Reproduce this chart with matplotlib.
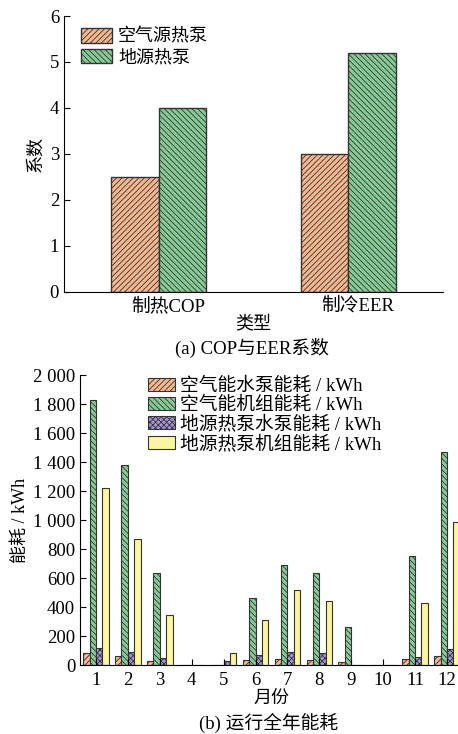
import numpy as np
import matplotlib.pyplot as plt

plt.rcParams['font.family'] = ['Liberation Serif', 'Noto Sans CJK SC']
plt.rcParams['hatch.linewidth'] = 0.6
plt.rcParams['hatch.color'] = '#555555'

# (a) COP / EER
types = ['制热COP', '制冷EER']
air_src = [2.5, 3.0]
ground_src = [4.0, 5.2]

# (b) monthly energy use, kWh
months = [str(m) for m in range(1, 13)]
air_pump = [80, 65, 30, 0, 0, 35, 40, 35, 20, 0, 40, 65]
air_unit = [1825, 1380, 635, 0, 0, 465, 690, 635, 265, 0, 750, 1470]
gs_pump = [120, 90, 45, 0, 25, 70, 90, 80, 0, 0, 55, 110]
gs_unit = [1220, 870, 345, 0, 80, 310, 520, 440, 0, 0, 430, 985]

c_orange = '#F6B88E'
c_green = '#86CC94'
c_purple = '#A896D8'
c_yellow = '#FAF6A0'
edge = '#333333'

fig = plt.figure(figsize=(4.58, 7.34), dpi=100)

# ---- top panel
ax1 = fig.add_axes([0.1397, 0.6022, 0.8275, 0.376])
x = np.arange(len(types))
w = 0.25
ax1.bar(x - w / 2, air_src, w, color=c_orange, edgecolor=edge, hatch='//////',
        linewidth=1.0, label='空气源热泵')
ax1.bar(x + w / 2, ground_src, w, color=c_green, edgecolor=edge, hatch='\\\\\\\\\\\\',
        linewidth=1.0, label='地源热泵')
ax1.set_xlim(-0.5, 1.5)
ax1.set_ylim(0, 6)
ax1.set_yticks(range(7))
ax1.set_xticks(x + 0.05)
ax1.set_xticklabels(types)
ax1.tick_params(axis='x', length=0, labelsize=13.5, pad=4)
ax1.tick_params(axis='y', direction='in', length=4, labelsize=13.5)
ax1.set_ylabel('系数', fontsize=13, labelpad=4)
ax1.set_xlabel('类型', fontsize=13, va='center')
ax1.xaxis.set_label_coords(0.5, -0.12)
for s in ['top', 'right']:
    ax1.spines[s].set_visible(False)
ax1.legend(loc='upper left', bbox_to_anchor=(0.045, 0.955), frameon=False,
           fontsize=13, handlelength=1.7, handleheight=0.85,
           labelspacing=0.15, handletextpad=0.35, borderaxespad=0,
           borderpad=0)
fig.text(0.55, 0.526, '(a) COP与EER系数', ha='center', va='center', fontsize=13.5)

# ---- bottom panel
ax2 = fig.add_axes([0.1747, 0.094, 0.836, 0.395])
xm = np.arange(1, 13)
bw = 0.2
series = [
    (air_pump, c_orange, '//////', '空气能水泵能耗 / kWh'),
    (air_unit, c_green, '\\\\\\\\\\\\', '空气能机组能耗 / kWh'),
    (gs_pump, c_purple, 'xxxxxx', '地源热泵水泵能耗 / kWh'),
    (gs_unit, c_yellow, '', '地源热泵机组能耗 / kWh'),
]
for i, (vals, col, hat, lab) in enumerate(series):
    ax2.bar(xm + (i - 1.5) * bw, vals, bw, color=col, edgecolor=edge,
            hatch=hat, linewidth=0.8, label=lab)
ax2.set_xlim(0.5, 12.5)
ax2.set_ylim(0, 2000)
ax2.set_xticks(xm)
ax2.set_xticklabels(months)
ax2.set_yticks(range(0, 2001, 200))
ax2.set_yticklabels(['0', '200', '400', '600', '800', '1 000', '1 200',
                     '1 400', '1 600', '1 800', '2 000'])
ax2.tick_params(axis='both', direction='in', length=4, labelsize=13.5)
ax2.tick_params(axis='x', pad=5)
ax2.set_ylabel('能耗 / kWh', fontsize=13, labelpad=3)
ax2.set_xlabel('月份', fontsize=13, va='center')
ax2.xaxis.set_label_coords(0.5, -0.114)
for s in ['top', 'right']:
    ax2.spines[s].set_visible(False)
ax2.legend(loc='upper left', bbox_to_anchor=(0.178, 0.99), frameon=False,
           fontsize=13.5, handlelength=1.45, handleheight=0.7,
           labelspacing=0.08, handletextpad=0.25, borderaxespad=0,
           borderpad=0)
fig.text(0.587, 0.015, '(b) 运行全年能耗', ha='center', va='center', fontsize=13.5)

fig.savefig('out.png', dpi=100)
